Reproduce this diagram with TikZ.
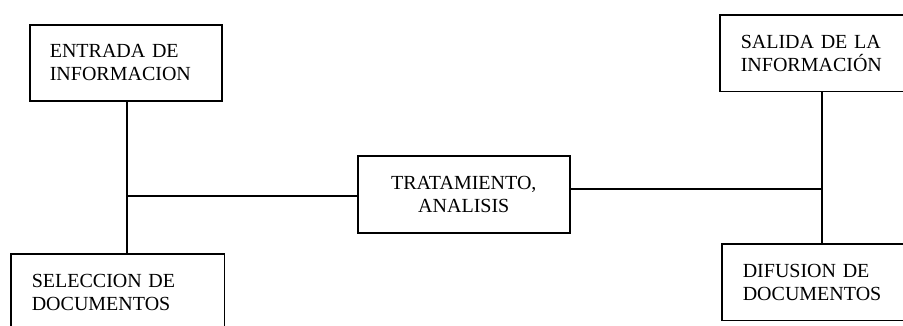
\documentclass[tikz,border=0pt]{standalone}
\usepackage{fontspec}
\setmainfont{Liberation Serif}
\begin{document}
\begin{tikzpicture}[x=1pt,y=-1pt,
  box/.style={draw, line width=1.6pt, rectangle, anchor=north west, inner xsep=20pt, inner ysep=0pt, font=\fontsize{20}{23}\selectfont},
  openbox/.style={box, draw=none},
  link/.style={line width=1.6pt}]
\useasboundingbox (0,0) rectangle (903,325);
\clip (0,0) rectangle (903,325);
\node[box, align=left, text width=152pt, minimum height=76pt] (entrada) at (29,24) {ENTRADA DE\\INFORMACION};
\node[openbox, align=left, text width=172pt, minimum height=76pt] (selec) at (11,254) {SELECCION DE\\DOCUMENTOS};
\node[box, align=center, text width=172pt, minimum height=77pt] (trat) at (357,155) {TRATAMIENTO,\\ANALISIS};
\node[openbox, align=left, text width=260pt, minimum height=75pt] (salida) at (720,15) {SALIDA DE LA\\INFORMACIÓN};
\node[openbox, align=left, text width=260pt, minimum height=75pt] (difusion) at (722,244) {DIFUSION DE\\DOCUMENTOS};
\draw[link] (selec.south west) -- (selec.north west) -- (selec.north east) -- (selec.south east);
\draw[link] (salida.north east) -- (salida.north west) -- (salida.south west) -- (salida.south east);
\draw[link] (difusion.north east) -- (difusion.north west) -- (difusion.south west) -- (difusion.south east);
\coordinate (j) at (127,196);
\coordinate (k) at (822,189);
\draw[link] (j |- entrada.south) -- (j |- selec.north);
\draw[link] (j) -- (j -| trat.west);
\draw[link] (k |- salida.south) -- (k |- difusion.north);
\draw[link] (k -| trat.east) -- (k);
\end{tikzpicture}
\end{document}
